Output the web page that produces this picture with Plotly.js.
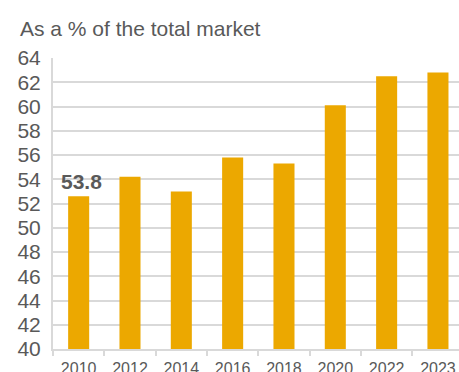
<!DOCTYPE html>
<html>
<head>
<meta charset="utf-8">
<script src="https://cdn.plot.ly/plotly-3.0.1.min.js"></script>
<style>html,body{margin:0;padding:0;background:#fff;}#chart{width:459px;height:372px;}</style>
</head>
<body>
<div id="chart"></div>
<script>
var years = ["2010", "2012", "2014", "2016", "2018", "2020", "2022", "2023"];
var shares = [52.6, 54.2, 53.0, 55.8, 55.3, 60.1, 62.5, 62.8];
var labelText = ["53.8"];
var yTicks = [40, 42, 44, 46, 48, 50, 52, 54, 56, 58, 60, 62, 64];
var gridVals = [42, 44, 46, 48, 50, 52, 54, 56, 58, 60, 62];
var titleText = "As a % of the total market";

var grey = "#595959";
var font = "Liberation Sans, Arial, sans-serif";

var trace = {
  type: "bar",
  x: years,
  y: shares,
  marker: {color: "#eca800"},
  hoverinfo: "x+y"
};

var layout = {
  width: 459,
  height: 372,
  margin: {l: 53, r: 0, t: 58, b: 23},
  paper_bgcolor: "#fff",
  plot_bgcolor: "#fff",
  bargap: 0.59,
  showlegend: false,
  font: {family: font, color: grey},
  title: {
    text: titleText,
    font: {family: font, size: 21, color: grey},
    x: 0, xref: "paper", xanchor: "left",
    y: 30, yref: "container", yanchor: "middle",
    pad: {l: -33}
  },
  xaxis: {
    type: "category",
    range: [-0.5, 7.41],
    showline: true, linecolor: "#d9d9d9", linewidth: 2,
    ticks: "outside", ticklen: 5, tickwidth: 2, tickcolor: "#d9d9d9",
    tickson: "boundaries",
    ticklabelstandoff: 4,
    tickfont: {family: font, size: 16, color: grey},
    showgrid: false
  },
  yaxis: {
    range: [40, 64],
    tickvals: yTicks,
    ticktext: yTicks.map(String),
    showline: true, linecolor: "#d9d9d9", linewidth: 2,
    showgrid: false,
    minor: {tickvals: gridVals, showgrid: true, gridcolor: "#d9d9d9", gridwidth: 2, ticks: ""},
    zeroline: false,
    ticks: "",
    ticklabelstandoff: 6,
    tickfont: {family: font, size: 21, color: grey}
  },
  annotations: [{
    x: 0, y: shares[0], xref: "x", yref: "y",
    text: "<b>" + labelText[0] + "</b>",
    showarrow: false, yanchor: "bottom", yshift: 1, xshift: 3,
    font: {family: font, size: 21, color: grey}
  }]
};

Plotly.newPlot("chart", [trace], layout, {displayModeBar: false, staticPlot: true});
</script>
</body>
</html>
